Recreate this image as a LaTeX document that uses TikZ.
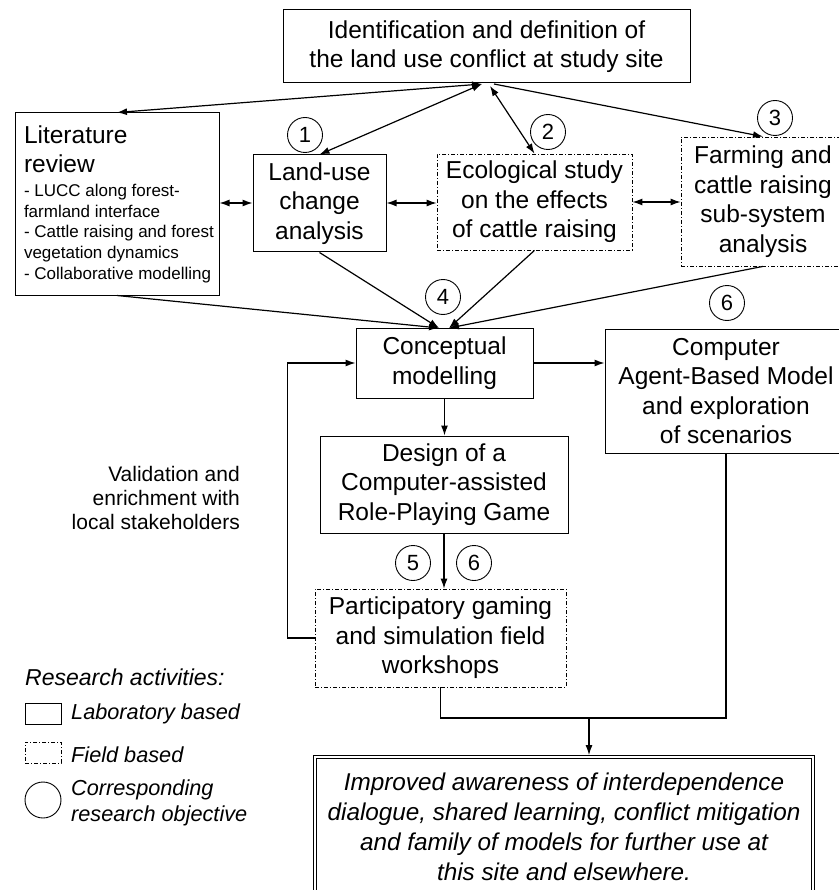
\documentclass[tikz,border=0pt]{standalone}
\usepackage{fontspec}
\setmainfont{Liberation Sans}
\usetikzlibrary{positioning,calc,arrows.meta}
\newcommand{\boxfont}{\fontsize{24.5}{29.5}\selectfont}
\newcommand{\listfont}{\fontsize{17}{20.7}\selectfont}
\newcommand{\numfont}{\fontsize{22}{24}\selectfont}
\newcommand{\keyfont}{\fontsize{21.7}{26}\selectfont\itshape}
\newcommand{\notefont}{\fontsize{21}{24}\selectfont}
\tikzset{
  labbox/.style={draw, line width=1pt, align=center, inner sep=0pt, font=\boxfont},
  fieldbox/.style={labbox, line width=0.8pt, dash pattern=on 4pt off 2pt on 1pt off 2pt},
  objnum/.style={draw, circle, line width=0.9pt, minimum size=35pt, inner sep=0pt, font=\numfont},
  link/.style={line width=1.2pt, -{Latex[length=10pt,width=7pt]}},
  link2/.style={line width=1.2pt, {Latex[length=10pt,width=7pt]}-{Latex[length=10pt,width=7pt]}},
  keytext/.style={anchor=west, inner sep=0pt, align=left, font=\keyfont}
}
\begin{document}
\begin{tikzpicture}[x=1pt,y=-1pt]
    \useasboundingbox[fill=white] (0,0) rectangle (838,890);
    \node[labbox, minimum width=407pt, minimum height=73pt] (ident) at (486.5,46.5) {Identification and definition of\\the land use conflict at study site};
    \node[labbox, minimum width=204pt, minimum height=182pt] (lit) at (117,204)
      {\hspace*{6pt}\parbox{192pt}{\raggedright Literature\\review\par\vspace{3pt}\listfont - LUCC along forest-\\farmland interface\\- Cattle raising and forest\\vegetation dynamics\\- Collaborative modelling\par}};
    \node[labbox, minimum width=133pt, minimum height=97pt] (landuse) at (319.5,203.5) {Land-use\\change\\analysis};
    \node[fieldbox, minimum width=195pt, minimum height=96pt] (eco) at (534.5,202) {Ecological study\\on the effects\\of cattle raising};
    \node[fieldbox, minimum width=164pt, minimum height=129pt] (farm) at (763,201.5) {Farming and\\cattle raising\\sub-system\\analysis};
    \node[labbox, minimum width=177pt, minimum height=70pt] (concept) at (444.5,363) {Conceptual\\modelling};
    \node[labbox, minimum width=242pt, minimum height=124pt] (abm) at (726,391) {Computer\\Agent-Based Model\\and exploration\\of scenarios};
    \node[labbox, minimum width=248pt, minimum height=97pt] (design) at (444,484.5) {Design of a\\Computer-assisted\\Role-Playing Game};
    \node[fieldbox, minimum width=251pt, minimum height=98pt] (particip) at (440.5,638) {Participatory gaming\\and simulation field\\workshops};
    \node[labbox, double, double distance=2.5pt, line width=0.8pt, minimum width=498pt, minimum height=140pt,
      font=\fontsize{24.3}{30}\selectfont\itshape] (result) at (564,827)
      {Improved awareness of interdependence\\dialogue, shared learning, conflict mitigation\\and family of models for further use at\\this site and elsewhere.};
    \node[objnum] (obj1) at (305,135) {1};
    \node[objnum] (obj2) at (548,132) {2};
    \node[objnum] (obj3) at (775,118) {3};
    \node[objnum] (obj4) at (443,297) {4};
    \node[objnum] (obj6a) at (727,303) {6};
    \node[objnum] (obj5) at (413,563) {5};
    \node[objnum] (obj6b) at (474,563) {6};
    \node[anchor=east, align=right, inner sep=0pt, font=\notefont] (valtxt) at (240,498) {Validation and\\enrichment with\\local stakeholders};
    \node[keytext, font=\fontsize{23}{26}\selectfont\itshape] (keytitle) at (25,677) {Research activities:};
    \node[draw, line width=0.8pt, minimum width=36pt, minimum height=21pt, inner sep=0pt] (keylab) at (43,713.5) {};
    \node[keytext] (keylabtxt) at (71,714) {Laboratory based};
    \node[fieldbox, minimum width=36pt, minimum height=21pt] (keyfield) at (43,752.5) {};
    \node[keytext] (keyfieldtxt) at (71,755) {Field based};
    \node[objnum, minimum size=36pt] (keyobj) at (43,800) {};
    \node[keytext] (keyobjtxt) at (71,803) {Corresponding\\research objective};
    \coordinate (topL) at (482,84);
    \coordinate (topM) at (490,86);
    \coordinate (topR) at (494,84);
    \coordinate (inL) at (439,328);
    \coordinate (inR) at (449,328);
    \coordinate (join) at (589,718);
    \draw[link2] (topL) -- (lit.north);
    \draw[link2] (landuse.north) -- (topL);
    \draw[link2] (topM) -- (eco.north);
    \draw[link] (topR) -- (farm.north);
    \draw[link2] (lit.east |- 0,203) -- (landuse.west |- 0,203);
    \draw[link2] (landuse.east |- 0,203) -- (eco.west |- 0,203);
    \draw[link2] (eco.east) -- (eco.east -| farm.west);
    \draw[link] (lit.south) -- (inL);
    \draw[link] (landuse.south) -- (inL);
    \draw[link] (eco.south) -- (inR);
    \draw[link] (farm.south) -- (inR);
    \draw[link] (concept.east) -- (concept.east -| abm.west);
    \draw[link] (concept.south) -- (concept.south |- design.north);
    \draw[link] (design.south) -- (design.south |- particip.north);
    \draw[link] (particip.west) -- ++(-27,0) |- (concept.west);
    \draw[line width=1.2pt] (particip.south) |- (join) -| (abm.south);
    \draw[link, shorten >=1.5pt] (join) -- (join |- result.north);
\end{tikzpicture}
\end{document}
